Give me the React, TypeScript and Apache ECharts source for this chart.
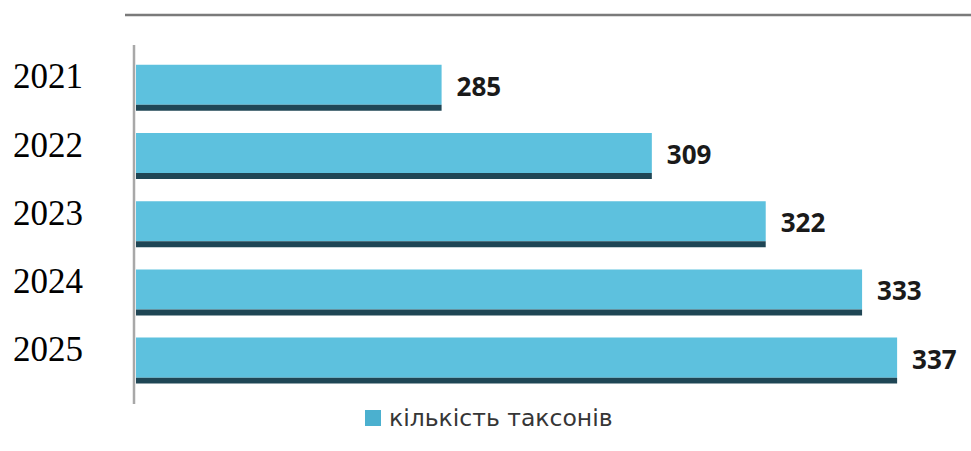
import React, { useEffect, useRef } from "react";
import * as echarts from "echarts";

const YEARS = ["2021", "2022", "2023", "2024", "2025"];
const TAXA = [285, 309, 322, 333, 337];
const SERIES_NAME = "кількість таксонів";
const X_MIN = 250;
const X_MAX = 345;

const BAR_COLOR = "#5dc1de";
const DARK_COLOR = "#1f4655";

export default function App() {
  const ref = useRef<HTMLDivElement>(null);
  useEffect(() => {
    if (!ref.current) return;
    const chart = echarts.init(ref.current, undefined, { renderer: "svg" });
    const data = TAXA.map((v, i) => [v, i]);
    chart.setOption({
      animation: false,
      backgroundColor: "#ffffff",
      grid: { left: 135, right: 3.8, top: 53.7, bottom: 56.3, containLabel: false },
      xAxis: {
        type: "value",
        min: X_MIN,
        max: X_MAX,
        show: false,
        splitLine: { show: false },
      },
      yAxis: {
        type: "category",
        data: YEARS,
        inverse: true,
        axisLine: { show: false },
        axisTick: { show: false },
        axisLabel: {
          align: "left",
          margin: 122,
          fontFamily: "Liberation Serif",
          fontSize: 35,
          color: "#000000",
          verticalAlign: "bottom",
          lineHeight: 22,
        },
      },
      legend: {
        data: [{ name: SERIES_NAME, icon: "rect" }],
        left: 365,
        top: 406,
        padding: 0,
        itemWidth: 16,
        itemHeight: 16,
        itemGap: 10,
        textStyle: {
          fontFamily: "DejaVu Sans",
          fontSize: 23.5,
          color: "#363636",
          padding: [0, 0, 0, 3],
        },
      },
      graphic: [
        {
          type: "line",
          shape: { x1: 125, y1: 15, x2: 971, y2: 15 },
          style: { stroke: "#7a7a7a", lineWidth: 2.5 },
        },
        {
          type: "line",
          shape: { x1: 134, y1: 45, x2: 134, y2: 404 },
          style: { stroke: "#a8a8a8", lineWidth: 2.5 },
        },
      ],
      series: [
        {
          type: "custom",
          name: SERIES_NAME,
          itemStyle: { color: "#4bb0cf" },
          encode: { x: 0, y: 1 },
          data,
          renderItem: (params: any, api: any) => {
            const v = api.value(0);
            const c = api.value(1);
            const start = api.coord([X_MIN, c]);
            const end = api.coord([v, c]);
            const band = api.size([0, 1])[1];
            const h = band * 0.675;
            const top = end[1] - h / 2;
            const blueH = h * 0.87;
            const w = end[0] - start[0];
            return {
              type: "group",
              children: [
                {
                  type: "rect",
                  shape: { x: start[0] + 1, y: top, width: w - 1, height: blueH },
                  style: { fill: BAR_COLOR },
                },
                {
                  type: "rect",
                  shape: { x: start[0] + 1, y: top + blueH, width: w - 1, height: h - blueH },
                  style: { fill: DARK_COLOR },
                },
                {
                  type: "text",
                  x: end[0] + 15,
                  y: top + blueH / 2 + 1,
                  style: {
                    text: String(v),
                    fill: "#1a1a1a",
                    fontFamily: "Open Sans",
                    fontWeight: "bold",
                    fontSize: 26,
                    align: "left",
                    verticalAlign: "middle",
                  },
                },
              ],
            };
          },
        },
      ],
    });
    return () => chart.dispose();
  }, []);
  return <div ref={ref} style={{ width: 971, height: 451, position: "absolute", left: 0, top: 0 }} />;
}
